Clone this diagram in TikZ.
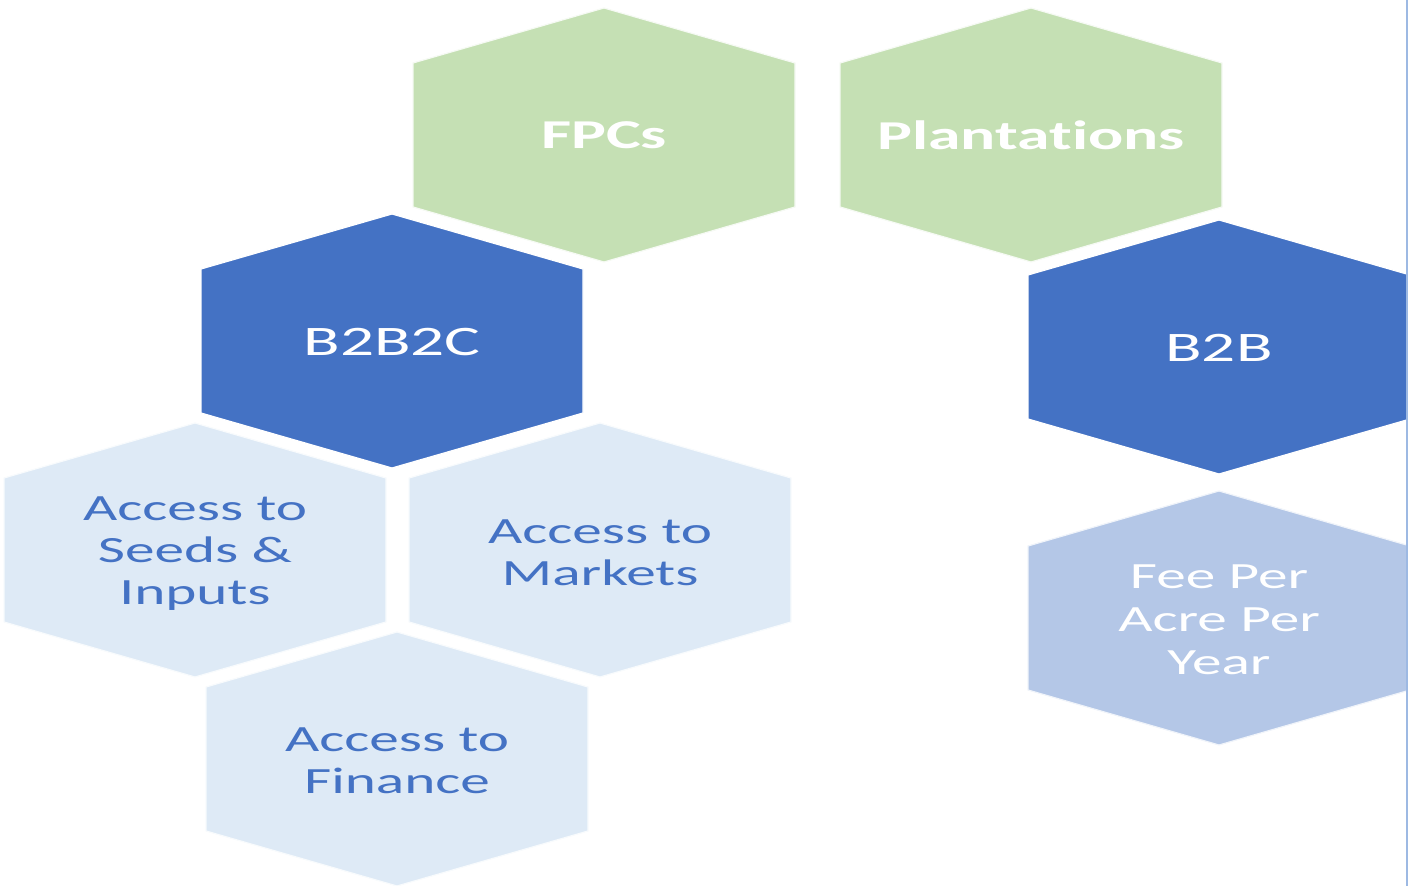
\documentclass[tikz,border=0pt]{standalone}
\usepackage{fontspec}
\setmainfont{Carlito}[FakeStretch=1.6, Ligatures=NoCommon]
\definecolor{hexGreen}{HTML}{C5E0B4}
\definecolor{hexDark}{HTML}{4472C4}
\definecolor{hexLight}{HTML}{DEEAF6}
\definecolor{hexMid}{HTML}{B4C7E7}
\definecolor{edgeLine}{HTML}{9DB9E3}
\tikzset{
  greenhex/.style={fill=hexGreen, draw=white!85!hexGreen, line width=0.6pt},
  darkhex/.style={fill=hexDark, draw=white, line width=0.6pt},
  lighthex/.style={fill=hexLight, draw=white!80!hexLight, line width=0.6pt},
  midhex/.style={fill=hexMid, draw=white!80!hexMid, line width=0.6pt},
  headtext/.style={text=white, font=\fontsize{20.5}{23}\selectfont\bfseries},
  bigtext/.style={text=white, font=\fontsize{21}{24}\selectfont},
  accesstext/.style={text=hexDark, align=center, font=\fontsize{18.5}{21}\selectfont},
  feetext/.style={text=white, align=center, font=\fontsize{18.5}{21.5}\selectfont}
}
% pointy-top hexagon round centre (#1,#2), in pixels
\newcommand{\hexpath}[2]{(#1,#2-127) -- (#1+191,#2-72) -- (#1+191,#2+72) -- (#1,#2+127) -- (#1-191,#2+72) -- (#1-191,#2-72) -- cycle}
\begin{document}
\begin{tikzpicture}[x=0.5pt, y=-0.5pt]
\useasboundingbox (0,0) rectangle (1408,886);
\begin{scope}
\clip (0,0) rectangle (1406,886);
% top row
\draw[greenhex] \hexpath{604}{135};
\draw[greenhex] \hexpath{1031}{135};
% models
\draw[darkhex] \hexpath{392}{341};
\draw[darkhex] \hexpath{1219}{347};
% offers
\draw[lighthex] \hexpath{195}{550};
\draw[lighthex] \hexpath{600}{550};
\draw[lighthex] \hexpath{397}{759};
\draw[midhex] \hexpath{1219}{618};
\end{scope}
\draw[edgeLine, line width=0.8pt] (1407,0) -- (1407,886);

\node[headtext] (fpcs) at (604,135) {FPCs};
\node[headtext] (plantations) at (1031,135) {Plantations};
\node[bigtext] (btobtoc) at (392,342) {B2B2C};
\node[bigtext] (btob) at (1219,348) {B2B};
\node[accesstext] (seeds) at (195,554) {Access to\\Seeds \&\\Inputs};
\node[accesstext] (markets) at (600,553) {Access to\\Markets};
\node[accesstext] (finance) at (397,761) {Access to\\Finance};
\node[feetext] (fee) at (1219,620) {Fee Per\\Acre Per\\Year};
\end{tikzpicture}
\end{document}
